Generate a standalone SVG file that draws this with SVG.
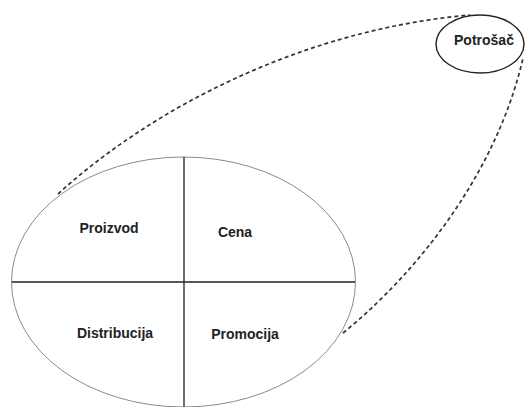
<svg xmlns="http://www.w3.org/2000/svg" width="525" height="407" viewBox="0 0 525 407">
<style>
.lbl{font-family:"Liberation Sans",Arial,sans-serif;font-weight:bold;font-size:14px;fill:#222;text-anchor:middle}
.big{fill:none;stroke:#8a8a8a;stroke-width:1}
.axis{stroke:#222;stroke-width:1.3}
.dash{fill:none;stroke:#333;stroke-width:1.7;stroke-dasharray:4 3}
</style>
<rect width="525" height="407" fill="#fff"/>
<g id="connectors">
<path class="dash" d="M58,194 C150,110 300,30 470,15"/>
<path class="dash" d="M343,333 C418,272 497,172 523,58"/>
</g>
<g id="mix">
<ellipse class="big" cx="183.5" cy="282" rx="172" ry="125"/>
<line class="axis" x1="184" y1="157" x2="184" y2="407"/>
<line class="axis" x1="12" y1="282" x2="355" y2="282"/>
</g>
<g id="proizvod"><text class="lbl" x="109" y="233">Proizvod</text></g>
<g id="cena"><text class="lbl" x="235" y="237">Cena</text></g>
<g id="distribucija"><text class="lbl" x="115" y="338">Distribucija</text></g>
<g id="promocija"><text class="lbl" x="245" y="339">Promocija</text></g>
<g id="potrosac">
<ellipse cx="480" cy="44" rx="44" ry="29" fill="none" stroke="#222" stroke-width="1.4"/>
<text class="lbl" x="484" y="45">Potrošač</text>
</g>
</svg>
